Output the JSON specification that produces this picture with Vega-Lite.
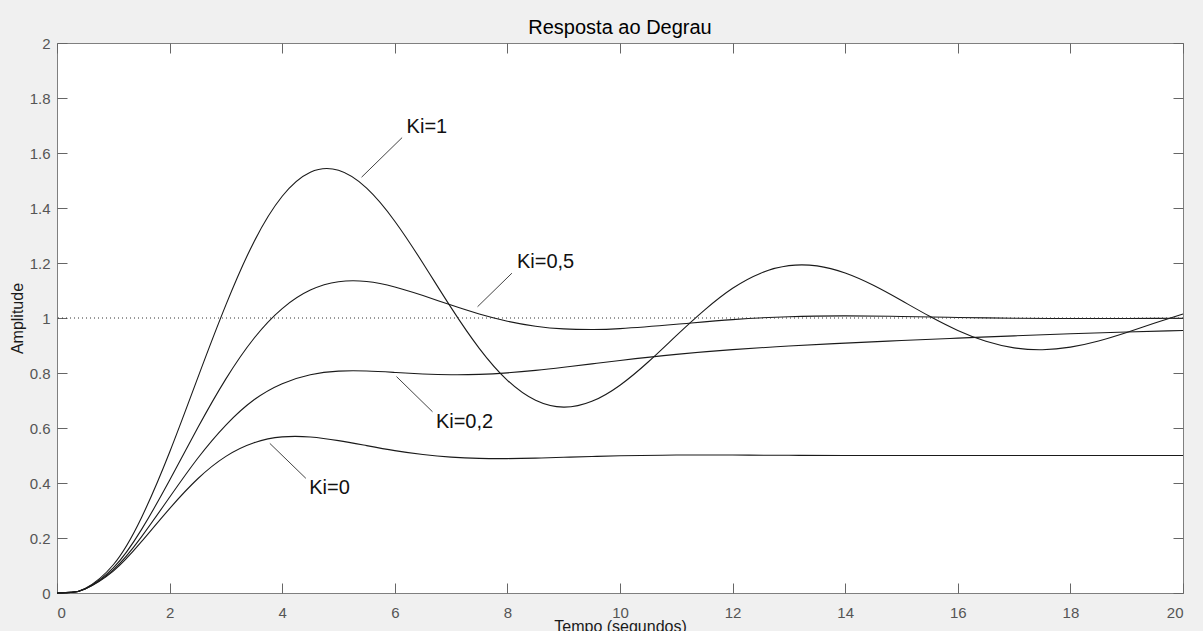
{
  "$schema": "https://vega.github.io/schema/vega-lite/v6.json",
  "width": 1126,
  "height": 550,
  "autosize": {"type": "none"},
  "padding": {"left": 57, "top": 43, "right": 20, "bottom": 38},
  "background": "#f0f0f0",
  "title": {"text": "Resposta ao Degrau", "fontSize": 20, "font": "Liberation Sans", "fontWeight": "normal", "color": "#000000", "offset": -2},
  "config": {
    "view": {"fill": "white", "stroke": "#7f7f7f", "strokeWidth": 1},
    "axis": {"grid": false, "domain": false, "labelFont": "Liberation Sans", "titleFont": "Liberation Sans", "labelFontSize": 15, "labelColor": "#555555", "titleFontSize": 16, "titleFontWeight": "normal", "titleColor": "#1a1a1a", "tickColor": "#666666", "tickSize": -10, "tickWidth": 1}
  },
  "datasets": {
    "curves": [
      {"Ki": "0", "t": 0, "y": 0}, {"Ki": "0", "t": 0.25, "y": 0.0021}, {"Ki": "0", "t": 0.5, "y": 0.0144}, {"Ki": "0", "t": 1, "y": 0.0797}, {"Ki": "0", "t": 1.5, "y": 0.1867}, {"Ki": "0", "t": 2, "y": 0.307}, {"Ki": "0", "t": 2.5, "y": 0.4154}, {"Ki": "0", "t": 3, "y": 0.4968}, {"Ki": "0", "t": 3.5, "y": 0.5463}, {"Ki": "0", "t": 4, "y": 0.5676}, {"Ki": "0", "t": 4.5, "y": 0.5673}, {"Ki": "0", "t": 5, "y": 0.5542}, {"Ki": "0", "t": 5.5, "y": 0.5358}, {"Ki": "0", "t": 6, "y": 0.5177}, {"Ki": "0", "t": 6.5, "y": 0.5034}, {"Ki": "0", "t": 7, "y": 0.494}, {"Ki": "0", "t": 7.5, "y": 0.4895}, {"Ki": "0", "t": 8, "y": 0.4888}, {"Ki": "0", "t": 8.5, "y": 0.4905}, {"Ki": "0", "t": 9, "y": 0.4934}, {"Ki": "0", "t": 9.5, "y": 0.4964}, {"Ki": "0", "t": 10, "y": 0.4989}, {"Ki": "0", "t": 11, "y": 0.5016}, {"Ki": "0", "t": 12, "y": 0.5016}, {"Ki": "0", "t": 13, "y": 0.5007}, {"Ki": "0", "t": 14, "y": 0.5}, {"Ki": "0", "t": 16, "y": 0.5}, {"Ki": "0", "t": 18, "y": 0.5}, {"Ki": "0", "t": 20, "y": 0.5},
      {"Ki": "0,2", "t": 0, "y": 0}, {"Ki": "0,2", "t": 0.25, "y": 0.0021}, {"Ki": "0,2", "t": 0.5, "y": 0.0148}, {"Ki": "0,2", "t": 1, "y": 0.0844}, {"Ki": "0,2", "t": 1.5, "y": 0.2042}, {"Ki": "0,2", "t": 2, "y": 0.3482}, {"Ki": "0,2", "t": 2.5, "y": 0.49}, {"Ki": "0,2", "t": 3, "y": 0.6107}, {"Ki": "0,2", "t": 3.5, "y": 0.7027}, {"Ki": "0,2", "t": 4, "y": 0.7612}, {"Ki": "0,2", "t": 4.5, "y": 0.7939}, {"Ki": "0,2", "t": 5, "y": 0.8067}, {"Ki": "0,2", "t": 5.5, "y": 0.8071}, {"Ki": "0,2", "t": 6, "y": 0.802}, {"Ki": "0,2", "t": 6.5, "y": 0.7966}, {"Ki": "0,2", "t": 7, "y": 0.7937}, {"Ki": "0,2", "t": 7.5, "y": 0.795}, {"Ki": "0,2", "t": 8, "y": 0.8006}, {"Ki": "0,2", "t": 8.5, "y": 0.8095}, {"Ki": "0,2", "t": 9, "y": 0.8208}, {"Ki": "0,2", "t": 9.5, "y": 0.8332}, {"Ki": "0,2", "t": 10, "y": 0.8456}, {"Ki": "0,2", "t": 11, "y": 0.8678}, {"Ki": "0,2", "t": 12, "y": 0.8851}, {"Ki": "0,2", "t": 13, "y": 0.8981}, {"Ki": "0,2", "t": 14, "y": 0.9087}, {"Ki": "0,2", "t": 15, "y": 0.9181}, {"Ki": "0,2", "t": 16, "y": 0.9269}, {"Ki": "0,2", "t": 17, "y": 0.9351}, {"Ki": "0,2", "t": 18, "y": 0.9425}, {"Ki": "0,2", "t": 19, "y": 0.9491}, {"Ki": "0,2", "t": 20, "y": 0.9548},
      {"Ki": "0,5", "t": 0, "y": 0}, {"Ki": "0,5", "t": 0.25, "y": 0.0022}, {"Ki": "0,5", "t": 0.5, "y": 0.0153}, {"Ki": "0,5", "t": 1, "y": 0.0913}, {"Ki": "0,5", "t": 1.5, "y": 0.2304}, {"Ki": "0,5", "t": 2, "y": 0.4097}, {"Ki": "0,5", "t": 2.5, "y": 0.6006}, {"Ki": "0,5", "t": 3, "y": 0.7786}, {"Ki": "0,5", "t": 3.5, "y": 0.9264}, {"Ki": "0,5", "t": 4, "y": 1.0341}, {"Ki": "0,5", "t": 4.5, "y": 1.1014}, {"Ki": "0,5", "t": 5, "y": 1.1317}, {"Ki": "0,5", "t": 5.5, "y": 1.1325}, {"Ki": "0,5", "t": 6, "y": 1.1128}, {"Ki": "0,5", "t": 6.5, "y": 1.0817}, {"Ki": "0,5", "t": 7, "y": 1.0469}, {"Ki": "0,5", "t": 7.5, "y": 1.0145}, {"Ki": "0,5", "t": 8, "y": 0.9883}, {"Ki": "0,5", "t": 8.5, "y": 0.9702}, {"Ki": "0,5", "t": 9, "y": 0.9604}, {"Ki": "0,5", "t": 9.5, "y": 0.958}, {"Ki": "0,5", "t": 10, "y": 0.9613}, {"Ki": "0,5", "t": 11, "y": 0.9772}, {"Ki": "0,5", "t": 12, "y": 0.9942}, {"Ki": "0,5", "t": 13, "y": 1.0047}, {"Ki": "0,5", "t": 14, "y": 1.0076}, {"Ki": "0,5", "t": 15, "y": 1.0055}, {"Ki": "0,5", "t": 16, "y": 1.0019}, {"Ki": "0,5", "t": 17, "y": 0.9991}, {"Ki": "0,5", "t": 18, "y": 0.998}, {"Ki": "0,5", "t": 19, "y": 0.9983}, {"Ki": "0,5", "t": 20, "y": 0.9991},
      {"Ki": "1", "t": 0, "y": 0}, {"Ki": "1", "t": 0.25, "y": 0.0023}, {"Ki": "1", "t": 0.5, "y": 0.0163}, {"Ki": "1", "t": 1, "y": 0.1028}, {"Ki": "1", "t": 1.5, "y": 0.2739}, {"Ki": "1", "t": 2, "y": 0.5117}, {"Ki": "1", "t": 2.5, "y": 0.7823}, {"Ki": "1", "t": 3, "y": 1.0477}, {"Ki": "1", "t": 3.5, "y": 1.2777}, {"Ki": "1", "t": 4, "y": 1.4427}, {"Ki": "1", "t": 4.5, "y": 1.5301}, {"Ki": "1", "t": 5, "y": 1.5371}, {"Ki": "1", "t": 5.5, "y": 1.4722}, {"Ki": "1", "t": 6, "y": 1.352}, {"Ki": "1", "t": 6.5, "y": 1.1992}, {"Ki": "1", "t": 7, "y": 1.0377}, {"Ki": "1", "t": 7.5, "y": 0.8897}, {"Ki": "1", "t": 8, "y": 0.7734}, {"Ki": "1", "t": 8.5, "y": 0.7006}, {"Ki": "1", "t": 9, "y": 0.6758}, {"Ki": "1", "t": 9.5, "y": 0.6969}, {"Ki": "1", "t": 10, "y": 0.7557}, {"Ki": "1", "t": 10.5, "y": 0.84}, {"Ki": "1", "t": 11, "y": 0.9358}, {"Ki": "1", "t": 11.5, "y": 1.0287}, {"Ki": "1", "t": 12, "y": 1.1081}, {"Ki": "1", "t": 12.5, "y": 1.1631}, {"Ki": "1", "t": 13, "y": 1.1904}, {"Ki": "1", "t": 13.5, "y": 1.1894}, {"Ki": "1", "t": 14, "y": 1.1633}, {"Ki": "1", "t": 14.5, "y": 1.1187}, {"Ki": "1", "t": 15, "y": 1.0634}, {"Ki": "1", "t": 15.5, "y": 1.0061}, {"Ki": "1", "t": 16, "y": 0.9547}, {"Ki": "1", "t": 16.5, "y": 0.9151}, {"Ki": "1", "t": 17, "y": 0.8914}, {"Ki": "1", "t": 17.5, "y": 0.8848}, {"Ki": "1", "t": 18, "y": 0.8942}, {"Ki": "1", "t": 18.5, "y": 0.9166}, {"Ki": "1", "t": 19, "y": 0.9474}, {"Ki": "1", "t": 19.5, "y": 0.9816}, {"Ki": "1", "t": 20, "y": 1.0144}
    ],
    "leaders": [
      {"label": "Ki=1", "t1": 5.41, "y1": 1.512, "t2": 6.13, "y2": 1.656},
      {"label": "Ki=0,5", "t1": 7.47, "y1": 1.041, "t2": 8.08, "y2": 1.163},
      {"label": "Ki=0,2", "t1": 6.03, "y1": 0.787, "t2": 6.67, "y2": 0.659},
      {"label": "Ki=0", "t1": 3.78, "y1": 0.544, "t2": 4.42, "y2": 0.417}
    ],
    "labels": [
      {"label": "Ki=1", "t": 6.21, "y": 1.696},
      {"label": "Ki=0,5", "t": 8.17, "y": 1.205},
      {"label": "Ki=0,2", "t": 6.73, "y": 0.621},
      {"label": "Ki=0", "t": 4.48, "y": 0.383}
    ]
  },
  "layer": [
    {
      "data": {"name": "curves"},
      "mark": {"type": "line", "interpolate": "natural", "color": "#1a1a1a", "strokeWidth": 1.1},
      "encoding": {
        "x": {"field": "t", "type": "quantitative", "scale": {"domain": [0, 20], "nice": false, "zero": false},
          "axis": {"orient": "bottom", "values": [0, 2, 4, 6, 8, 10, 12, 14, 16, 18, 20], "labelPadding": 22, "title": "Tempo (segundos)", "titleBaseline": "middle", "titleY": 33, "titleX": 563}},
        "y": {"field": "y", "type": "quantitative", "scale": {"domain": [0, 2], "nice": false},
          "axis": {"orient": "left", "values": [0, 0.2, 0.4, 0.6, 0.8, 1, 1.2, 1.4, 1.6, 1.8, 2], "format": "~g", "labelPadding": 17, "title": "Amplitude", "titleAngle": 270, "titleBaseline": "middle", "titleX": -40, "titleY": 275}},
        "detail": {"field": "Ki"}
      }
    },
    {
      "data": {"values": [{"level": 1}]},
      "mark": {"type": "rule", "color": "#333333", "strokeDash": [1, 3], "strokeWidth": 1},
      "encoding": {"y": {"field": "level", "type": "quantitative", "axis": null}}
    },
    {
      "data": {"name": "leaders"},
      "mark": {"type": "rule", "color": "#444444", "strokeWidth": 1},
      "encoding": {
        "x": {"field": "t1", "type": "quantitative", "axis": {"orient": "top", "labels": false, "title": null, "values": [0, 2, 4, 6, 8, 10, 12, 14, 16, 18, 20]}},
        "y": {"field": "y1", "type": "quantitative", "axis": {"orient": "right", "labels": false, "title": null, "values": [0, 0.2, 0.4, 0.6, 0.8, 1, 1.2, 1.4, 1.6, 1.8, 2]}},
        "x2": {"field": "t2"},
        "y2": {"field": "y2"}
      }
    },
    {
      "data": {"name": "labels"},
      "mark": {"type": "text", "align": "left", "baseline": "middle", "font": "Liberation Sans", "fontSize": 20, "color": "#111111"},
      "encoding": {
        "x": {"field": "t", "type": "quantitative", "axis": null},
        "y": {"field": "y", "type": "quantitative", "axis": null},
        "text": {"field": "label"}
      }
    }
  ],
  "resolve": {"axis": {"x": "independent", "y": "independent"}}
}
